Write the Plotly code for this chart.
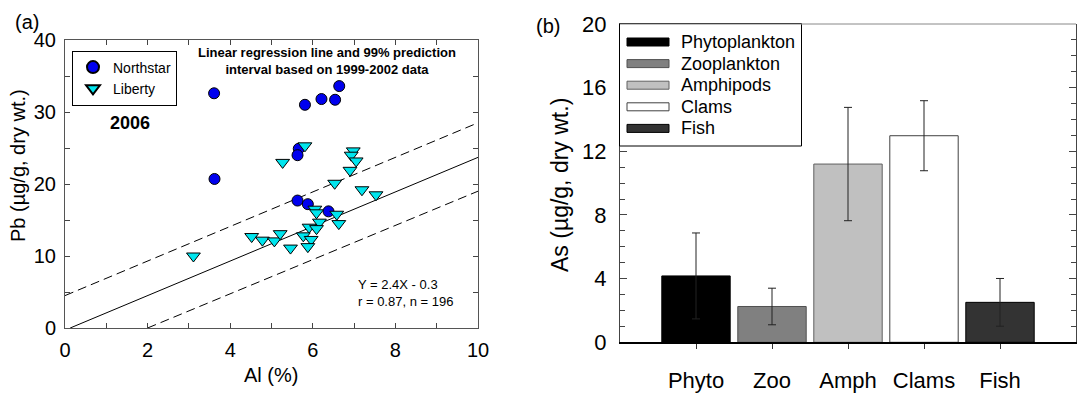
import plotly.graph_objects as go

# ---------------- Panel (a) data ----------------
northstar_al = [3.61, 5.81, 6.21, 6.54, 6.64, 5.66, 5.63, 3.62, 5.63, 5.88, 6.38]
northstar_pb = [32.6, 31.0, 31.8, 31.7, 33.6, 24.9, 24.0, 20.7, 17.7, 17.2, 16.2]

liberty_al = [5.81, 5.27, 6.98, 6.93, 7.05, 6.90, 6.53, 7.19, 7.53, 6.05, 6.09, 6.58,
              6.63, 6.16, 5.91, 6.09, 4.52, 4.78, 5.07, 5.21, 5.77, 5.96, 5.88, 5.46, 3.11]
liberty_pb = [25.3, 23.0, 24.6, 24.0, 23.2, 21.9, 20.1, 19.2, 18.5, 16.5, 16.0, 15.8,
              14.5, 14.7, 14.0, 13.8, 12.7, 12.2, 12.1, 13.1, 12.8, 12.3, 11.3, 11.1, 10.0]

reg_x = [0.125, 10.0]
reg_y = [0.0, 23.7]
upper_x = [0.0, 10.0]
upper_y = [4.5, 28.5]
lower_x = [2.0, 10.0]
lower_y = [0.0, 19.0]

# ---------------- Panel (b) data ----------------
groups = ["Phytoplankton", "Zooplankton", "Amphipods", "Clams", "Fish"]
group_labels = ["Phyto", "Zoo", "Amph", "Clams", "Fish"]
as_mean = [4.17, 2.25, 11.2, 12.98, 2.51]
as_err = [2.7, 1.15, 3.56, 2.2, 1.5]
bar_fill = ["#000000", "#808080", "#c0c0c0", "#ffffff", "#333333"]
bar_edge = ["#000000", "#505050", "#606060", "#404040", "#000000"]

FONT = "Arial, Liberation Sans, sans-serif"
W, H = 1078, 396

def px(x):
    return x / W

def py(y):
    return 1 - y / H

fig = go.Figure()

fig.add_trace(go.Scatter(x=upper_x, y=upper_y, mode="lines", showlegend=False,
                         line=dict(color="black", width=1, dash="9px,5px"),
                         xaxis="x", yaxis="y", hoverinfo="skip"))
fig.add_trace(go.Scatter(x=lower_x, y=lower_y, mode="lines", showlegend=False,
                         line=dict(color="black", width=1, dash="9px,5px"),
                         xaxis="x", yaxis="y", hoverinfo="skip"))
fig.add_trace(go.Scatter(x=reg_x, y=reg_y, mode="lines", showlegend=False,
                         line=dict(color="black", width=1),
                         xaxis="x", yaxis="y", hoverinfo="skip"))

fig.add_trace(go.Scatter(x=northstar_al, y=northstar_pb, mode="markers", name="Northstar",
                         marker=dict(symbol="circle", size=11, color="#0000ee",
                                     line=dict(color="black", width=1)),
                         xaxis="x", yaxis="y"))
fig.add_trace(go.Scatter(x=liberty_al, y=liberty_pb, mode="markers", name="Liberty",
                         marker=dict(symbol="triangle-down", size=12, color="#00e5ee",
                                     line=dict(color="black", width=1)),
                         xaxis="x", yaxis="y"))

fig.add_trace(go.Bar(x=list(range(len(groups))), y=as_mean, width=0.9,
                     marker=dict(color=bar_fill, line=dict(color=bar_edge, width=1)),
                     error_y=dict(type="data", array=as_err, visible=True,
                                  color="#222222", thickness=1, width=4),
                     showlegend=False, xaxis="x2", yaxis="y2"))

shapes = []
annotations = []

# manual legend for panel (b)
leg_x0, leg_x1, leg_y0, leg_y1 = 619.5, 801.5, 23.5, 146
shapes.append(dict(type="rect", xref="paper", yref="paper",
                   x0=px(leg_x0), x1=px(leg_x1), y0=py(leg_y1), y1=py(leg_y0),
                   line=dict(color="black", width=1), fillcolor="white", layer="above"))
for i, g in enumerate(groups):
    yc = 42 + i * 21.6
    shapes.append(dict(type="rect", xref="paper", yref="paper",
                       x0=px(627), x1=px(669), y0=py(yc + 4), y1=py(yc - 4),
                       line=dict(color=bar_edge[i], width=1), fillcolor=bar_fill[i],
                       layer="above"))
    annotations.append(dict(text=g, xref="paper", yref="paper", x=px(679), y=py(yc),
                            xanchor="left", yanchor="middle", showarrow=False,
                            font=dict(family=FONT, size=18, color="black")))

# top border of panel (b)
shapes.append(dict(type="line", xref="x2 domain", yref="y2 domain", x0=0, x1=1, y0=1, y1=1,
                   line=dict(color="#888888", width=1)))

# panel labels and text
annotations += [
    dict(text="(a)", x=px(27), y=py(22), font=dict(size=20)),
    dict(text="(b)", x=px(548), y=py(26), font=dict(size=20)),
    dict(text="<b>Linear regression line and 99% prediction<br>interval based on 1999-2002 data</b>",
         x=px(327), y=py(61), font=dict(size=13)),
    dict(text="<b>2006</b>", x=px(130), y=py(123), font=dict(size=18)),
    dict(text="Y = 2.4X - 0.3<br>r = 0.87, n = 196", x=px(356), y=py(293),
         xanchor="left", align="left", font=dict(size=13)),
    dict(text="Pb (µg/g, dry wt.)", x=px(18), y=py(166), textangle=-90, font=dict(size=20)),
    dict(text="Al (%)", x=px(271), y=py(375), font=dict(size=20)),
    dict(text="As (µg/g, dry wt.)", x=px(560), y=py(185), textangle=-90, font=dict(size=23)),
]
for a in annotations:
    a.setdefault("xref", "paper")
    a.setdefault("yref", "paper")
    a.setdefault("showarrow", False)
    a.setdefault("xanchor", "center")
    a.setdefault("yanchor", "middle")
    a["font"] = dict(family=FONT, color="black", size=a["font"].get("size", 14))

fig.update_layout(
    width=W, height=H, autosize=False,
    margin=dict(l=0, r=0, t=0, b=0, pad=0, autoexpand=False),
    paper_bgcolor="white", plot_bgcolor="white",
    font=dict(family=FONT, color="black"),
    shapes=shapes, annotations=annotations,
    bargap=0.1,
    legend=dict(x=px(72), y=py(50.5), xanchor="left", yanchor="top",
                bordercolor="black", borderwidth=1, bgcolor="white",
                font=dict(family=FONT, size=14, color="black"),
                tracegroupgap=0, itemsizing="constant"),
    xaxis=dict(domain=[px(65), px(478)], range=[0, 10], dtick=2, tick0=0,
               ticks="inside", ticklen=5, tickcolor="#444", showline=True, linecolor="#555",
               linewidth=1, mirror="ticks", showgrid=False, zeroline=False,
               minor=dict(dtick=1, ticks="inside", ticklen=5, tickcolor="#444"),
               tickfont=dict(size=20), ticklabelstandoff=4, anchor="y", automargin=False),
    yaxis=dict(domain=[py(328), py(40)], range=[0, 40], dtick=10, tick0=0,
               ticks="inside", ticklen=5, tickcolor="#444", showline=True, linecolor="#555",
               linewidth=1, mirror="ticks", showgrid=False, zeroline=False,
               minor=dict(dtick=5, ticks="inside", ticklen=5, tickcolor="#444"),
               tickfont=dict(size=20), ticklabelstandoff=4, anchor="x", automargin=False),
    xaxis2=dict(domain=[px(620), px(1076)], range=[-1, 5],
                tickvals=list(range(len(group_labels))), ticktext=group_labels,
                ticks="outside", ticklen=5, tickcolor="#333", showline=True, linecolor="black",
                linewidth=2, mirror=False, showgrid=False, zeroline=False,
                tickfont=dict(size=22), ticklabelstandoff=12, anchor="y2", automargin=False),
    yaxis2=dict(domain=[py(342.3), py(24)], range=[0, 20], dtick=4, tick0=0,
                ticks="inside", ticklen=7, tickcolor="#444", showline=True, linecolor="#444",
                linewidth=1, mirror="ticks", showgrid=False, zeroline=False,
                minor=dict(dtick=1, ticks="inside", ticklen=5, tickcolor="#444"),
                tickfont=dict(size=22), ticklabelstandoff=8, anchor="x2", automargin=False),
)

fig.write_html("out.html")
